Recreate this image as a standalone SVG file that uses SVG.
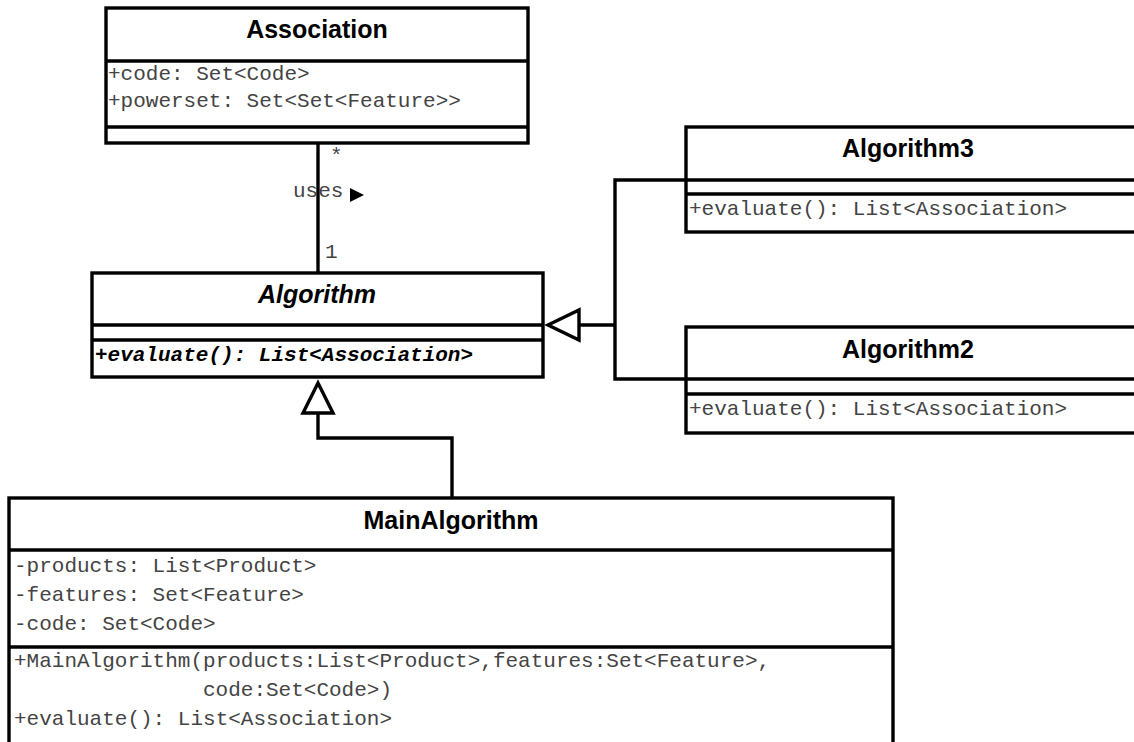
<svg xmlns="http://www.w3.org/2000/svg" width="1134" height="742" viewBox="0 0 1134 742">
  <style>
    .box { fill: #ffffff; stroke: #000000; stroke-width: 3.4; }
    .sep { stroke: #000000; stroke-width: 3.4; fill: none; }
    .title { font-family: "Liberation Sans", Arial, sans-serif; font-weight: bold; font-size: 25px; fill: #000000; text-anchor: middle; }
    .member { font-family: "Liberation Mono", "Courier New", monospace; font-size: 21px; fill: #444444; }
    .abstract { font-style: italic; }
    .absmember { font-family: "Liberation Mono", "Courier New", monospace; font-size: 21px; font-weight: bold; font-style: italic; fill: #000000; }
    .edge { stroke: #000000; stroke-width: 3.4; fill: none; }
    .head { stroke: #000000; stroke-width: 3.4; fill: #ffffff; stroke-linejoin: miter; }
  </style>

  <rect width="1134" height="742" fill="#ffffff"/>

  <!-- connectors -->
  <g id="connectors">
    <!-- Association uses Algorithm -->
    <line class="edge" x1="318" y1="143" x2="318" y2="273"/>
    <text class="member" x="330" y="162">*</text>
    <text class="member" x="293" y="197">uses</text>
    <path d="M350,188 L364,195 L350,202 Z" fill="#000000"/>
    <text class="member" x="325" y="258">1</text>

    <!-- Algorithm3 / Algorithm2 generalization -->
    <polyline class="edge" points="686,180 615,180 615,379 686,379"/>
    <line class="edge" x1="579" y1="325" x2="615" y2="325"/>
    <path class="head" d="M548,325 L579,310 L579,340 Z"/>

    <!-- MainAlgorithm generalization -->
    <polyline class="edge" points="452,498 452,438 318,438 318,413"/>
    <path class="head" d="M318,383 L303,413 L333,413 Z"/>
  </g>

  <!-- Association -->
  <g id="association">
    <rect class="box" x="106" y="8" width="422" height="135"/>
    <line class="sep" x1="106" y1="61" x2="528" y2="61"/>
    <line class="sep" x1="106" y1="127" x2="528" y2="127"/>
    <text class="title" x="317" y="38">Association</text>
    <text class="member" x="108" y="80">+code: Set&lt;Code&gt;</text>
    <text class="member" x="108" y="107">+powerset: Set&lt;Set&lt;Feature&gt;&gt;</text>
  </g>

  <!-- Algorithm (abstract) -->
  <g id="algorithm">
    <rect class="box" x="92" y="273" width="451" height="104"/>
    <line class="sep" x1="92" y1="325" x2="543" y2="325"/>
    <line class="sep" x1="92" y1="340" x2="543" y2="340"/>
    <text class="title abstract" x="317" y="303">Algorithm</text>
    <text class="absmember" x="95" y="361">+evaluate(): List&lt;Association&gt;</text>
  </g>

  <!-- Algorithm3 -->
  <g id="algorithm3">
    <rect class="box" x="686" y="127" width="470" height="105"/>
    <line class="sep" x1="686" y1="180" x2="1156" y2="180"/>
    <line class="sep" x1="686" y1="194" x2="1156" y2="194"/>
    <text class="title" x="908" y="157">Algorithm3</text>
    <text class="member" x="689" y="215">+evaluate(): List&lt;Association&gt;</text>
  </g>

  <!-- Algorithm2 -->
  <g id="algorithm2">
    <rect class="box" x="686" y="327" width="470" height="106"/>
    <line class="sep" x1="686" y1="379" x2="1156" y2="379"/>
    <line class="sep" x1="686" y1="394" x2="1156" y2="394"/>
    <text class="title" x="908" y="358">Algorithm2</text>
    <text class="member" x="689" y="415">+evaluate(): List&lt;Association&gt;</text>
  </g>

  <!-- MainAlgorithm -->
  <g id="mainalgorithm">
    <rect class="box" x="9" y="498" width="884" height="270"/>
    <line class="sep" x1="9" y1="550" x2="893" y2="550"/>
    <line class="sep" x1="9" y1="647" x2="893" y2="647"/>
    <text class="title" x="451" y="529">MainAlgorithm</text>
    <text class="member" x="14" y="572">-products: List&lt;Product&gt;</text>
    <text class="member" x="14" y="601">-features: Set&lt;Feature&gt;</text>
    <text class="member" x="14" y="630">-code: Set&lt;Code&gt;</text>
    <text class="member" x="14" y="667">+MainAlgorithm(products:List&lt;Product&gt;,features:Set&lt;Feature&gt;,</text>
    <text class="member" x="203" y="696">code:Set&lt;Code&gt;)</text>
    <text class="member" x="14" y="725">+evaluate(): List&lt;Association&gt;</text>
  </g>
</svg>
